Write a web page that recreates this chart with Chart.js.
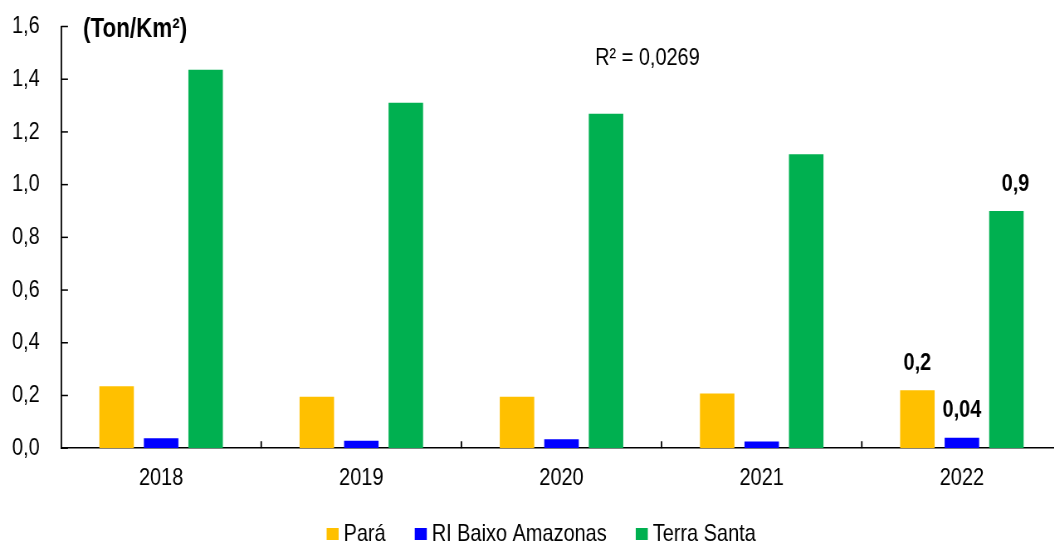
<!DOCTYPE html>
<html>
<head>
<meta charset="utf-8">
<script src="https://cdn.jsdelivr.net/npm/chart.js@4.4.1/dist/chart.umd.min.js"></script>
<style>
  html, body { margin: 0; padding: 0; background: #fff; overflow: hidden; }
  /* texto estreito: o gráfico é desenhado mais largo e comprimido na horizontal */
  #wrap { position: relative; width: 1282px; height: 544px; transform: scaleX(0.83); transform-origin: 0 0; }
</style>
</head>
<body>
<div id="wrap"><canvas id="myChart"></canvas></div>
<script>
// Densidade (Ton/Km²) por ano
const anos = ['2018', '2019', '2020', '2021', '2022'];
const para = [0.235, 0.195, 0.195, 0.208, 0.22];
const riBaixoAmazonas = [0.038, 0.028, 0.034, 0.025, 0.04];
const terraSanta = [1.436, 1.311, 1.269, 1.115, 0.9];

const unidade = '(Ton/Km²)';
const r2Texto = 'R² = 0,0269';

// casas decimais dos rótulos de cada série, e quais anos levam rótulo
const casas = [1, 2, 1];
const anosRotulados = [4];

const fonte = "'Liberation Sans', Arial, sans-serif";

function virgula(v, n) {
    return v.toFixed(n).replace('.', ',');
}

const extras = {
    id: 'extras',
    afterDraw(chart) {
        const { ctx, chartArea, scales: { x, y } } = chart;
        ctx.save();
        ctx.strokeStyle = '#000';
        ctx.lineWidth = 1.5;

        // marcas do eixo y, para dentro
        y.ticks.forEach(t => {
            const py = y.getPixelForValue(t.value);
            ctx.beginPath();
            ctx.moveTo(chartArea.left, py);
            ctx.lineTo(chartArea.left + 8.4, py);
            ctx.stroke();
        });

        // marcas do eixo x entre as categorias
        ctx.lineWidth = 1.8;
        for (let i = 1; i < anos.length; i++) {
            const px = (x.getPixelForValue(i - 1) + x.getPixelForValue(i)) / 2;
            ctx.beginPath();
            ctx.moveTo(px, chartArea.bottom);
            ctx.lineTo(px, chartArea.bottom - 7);
            ctx.stroke();
        }

        ctx.fillStyle = '#000';
        ctx.textBaseline = 'middle';
        ctx.font = `bold 27px ${fonte}`;
        ctx.textAlign = 'left';
        ctx.fillText(unidade, 100, 30);

        ctx.font = `24px ${fonte}`;
        ctx.textAlign = 'center';
        ctx.fillText(r2Texto, 780, 58);

        // valores do último ano
        ctx.font = `bold 24px ${fonte}`;
        const dx = [0, 0, 11];
        chart.data.datasets.forEach((ds, di) => {
            const meta = chart.getDatasetMeta(di);
            anosRotulados.forEach(i => {
                const bar = meta.data[i];
                ctx.fillText(virgula(ds.data[i], casas[di]), bar.x + dx[di], bar.y - 27);
            });
        });

        // legenda
        ctx.font = `24px ${fonte}`;
        ctx.textAlign = 'left';
        const caixa = 14.5, vao = 6, entre = 35, ly = 534;
        const itens = chart.data.datasets.map(ds => ({
            texto: ds.label, cor: ds.backgroundColor, w: ctx.measureText(ds.label).width
        }));
        const total = itens.reduce((s, it) => s + caixa + vao + it.w, 0) + entre * (itens.length - 1);
        let lx = 652 - total / 2;
        itens.forEach(it => {
            ctx.fillStyle = it.cor;
            ctx.fillRect(lx, ly - 6, caixa, 12);
            ctx.fillStyle = '#000';
            ctx.fillText(it.texto, lx + caixa + vao, ly);
            lx += caixa + vao + it.w + entre;
        });
        ctx.restore();
    }
};

const ctx = document.getElementById('myChart');

new Chart(ctx, {
    type: 'bar',
    data: {
        labels: anos,
        datasets: [
            { label: 'Pará', data: para, backgroundColor: '#FFC000' },
            { label: 'RI Baixo Amazonas', data: riBaixoAmazonas, backgroundColor: '#0000FF' },
            { label: 'Terra Santa', data: terraSanta, backgroundColor: '#00B050' }
        ]
    },
    options: {
        responsive: true,
        maintainAspectRatio: false,
        animation: false,
        categoryPercentage: 0.667,
        barPercentage: 0.775,
        layout: {
            padding: { top: 26.5, left: 14.5, right: 2.5, bottom: 35 }
        },
        scales: {
            x: {
                grid: { display: false, drawTicks: false },
                border: { display: true, color: '#000', width: 1.5 },
                ticks: {
                    color: '#000',
                    padding: 16,
                    font: { family: fonte, size: 24 }
                }
            },
            y: {
                min: 0,
                max: 1.6,
                afterFit(scale) { scale.width = 59; },
                grid: { display: false, drawTicks: false },
                border: { display: true, color: '#000', width: 1.8 },
                ticks: {
                    stepSize: 0.2,
                    color: '#000',
                    padding: 2,
                    crossAlign: 'far',
                    font: { family: fonte, size: 24 },
                    callback: v => virgula(v, 1)
                }
            }
        },
        plugins: {
            legend: { display: false },
            tooltip: { enabled: false }
        }
    },
    plugins: [extras]
});
</script>
</body>
</html>
